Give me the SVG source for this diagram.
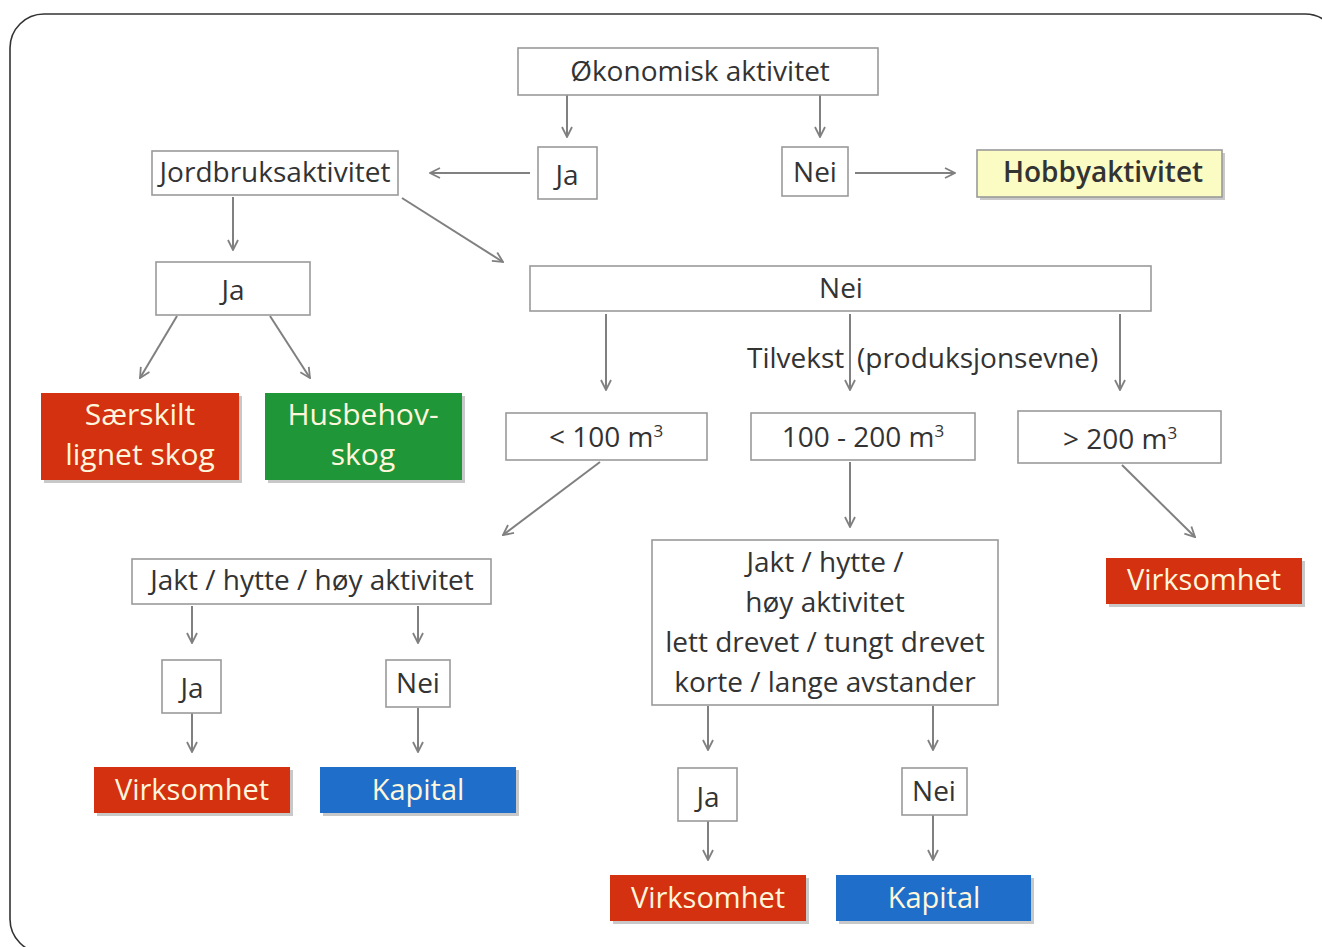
<svg xmlns="http://www.w3.org/2000/svg" width="1322" height="947" viewBox="0 0 1322 947">
<style>
.b{fill:#fff;stroke:#9a9a9a;stroke-width:1.6}
.t{font-family:"Open Sans","Noto Sans",sans-serif;font-size:28px;fill:#333;text-anchor:middle}
.w{font-family:"Open Sans","Noto Sans",sans-serif;font-size:29px;fill:#fff6dc;text-anchor:middle}
.red{fill:#d3310f}
.grn{fill:#1f9638}
.blu{fill:#1f6fca}
.sh{fill:#9a9a9a;opacity:0.55}
.c{stroke:#808080;stroke-width:2;fill:none;marker-end:url(#ah)}
</style>
<defs>
<marker id="ah" viewBox="0 0 12 12" refX="11" refY="6" markerWidth="12" markerHeight="12" markerUnits="userSpaceOnUse" orient="auto">
<path d="M1,1 L11,6 L1,11" fill="none" stroke="#808080" stroke-width="1.8"/>
</marker>
</defs>
<rect x="0" y="0" width="1322" height="947" fill="#fff"/>
<rect x="10" y="14" width="1329" height="939" rx="34" fill="none" stroke="#333" stroke-width="1.6"/>

<g id="connectors">
<line class="c" x1="567" y1="95" x2="567" y2="137"/>
<line class="c" x1="820" y1="95" x2="820" y2="137"/>
<line class="c" x1="530" y1="173" x2="430" y2="173"/>
<line class="c" x1="855" y1="173" x2="955" y2="173"/>
<line class="c" x1="233" y1="197" x2="233" y2="250"/>
<line class="c" x1="402" y1="198" x2="503" y2="262"/>
<line class="c" x1="177" y1="316" x2="140" y2="378"/>
<line class="c" x1="270" y1="316" x2="310" y2="378"/>
<line class="c" x1="606" y1="314" x2="606" y2="390"/>
<line class="c" x1="850" y1="314" x2="850" y2="390"/>
<line class="c" x1="1120" y1="314" x2="1120" y2="390"/>
<line class="c" x1="600" y1="462" x2="503" y2="535"/>
<line class="c" x1="850" y1="462" x2="850" y2="527"/>
<line class="c" x1="1122" y1="465" x2="1195" y2="537"/>
<line class="c" x1="192" y1="606" x2="192" y2="643"/>
<line class="c" x1="418" y1="606" x2="418" y2="643"/>
<line class="c" x1="192" y1="713" x2="192" y2="752"/>
<line class="c" x1="418" y1="708" x2="418" y2="752"/>
<line class="c" x1="708" y1="706" x2="708" y2="750"/>
<line class="c" x1="933" y1="706" x2="933" y2="750"/>
<line class="c" x1="708" y1="821" x2="708" y2="860"/>
<line class="c" x1="933" y1="815" x2="933" y2="860"/>
</g>

<g id="okonomisk"><rect class="b" x="518" y="48" width="360" height="47"/><text class="t" x="700" y="81">Økonomisk aktivitet</text></g>
<g id="ja1"><rect class="b" x="538" y="147" width="59" height="52"/><text class="t" x="567" y="185">Ja</text></g>
<g id="nei1"><rect class="b" x="782" y="147" width="66" height="49"/><text class="t" x="815" y="182">Nei</text></g>
<g id="hobby"><rect class="sh" x="980" y="153" width="245" height="47"/><rect x="977" y="150" width="245" height="47" fill="#fbfbc4" stroke="#9a9a9a" stroke-width="1.6"/><text class="t" x="1103" y="182" style="font-weight:600">Hobbyaktivitet</text></g>
<g id="jordbruk"><rect class="b" x="152" y="151" width="246" height="44"/><text class="t" x="275" y="182">Jordbruksaktivitet</text></g>
<g id="ja2"><rect class="b" x="156" y="262" width="154" height="53"/><text class="t" x="233" y="300">Ja</text></g>
<g id="serskilt"><rect class="sh" x="44" y="396" width="198" height="87"/><rect class="red" x="41" y="393" width="198" height="87"/><text class="w" x="140" y="425" style="font-size:30px">Særskilt</text><text class="w" x="140" y="465" style="font-size:30px">lignet skog</text></g>
<g id="husbehov"><rect class="sh" x="268" y="396" width="197" height="87"/><rect class="grn" x="265" y="393" width="197" height="87"/><text class="w" x="363" y="425" style="font-size:30px">Husbehov-</text><text class="w" x="363" y="465" style="font-size:30px">skog</text></g>
<g id="nei2"><rect class="b" x="530" y="266" width="621" height="45"/><text class="t" x="841" y="298">Nei</text></g>
<g id="tilvekst"><text class="t" style="text-anchor:start" y="368"><tspan x="747">Tilvekst</tspan><tspan x="857">(produksjonsevne)</tspan></text></g>
<g id="lt100"><rect class="b" x="506" y="413" width="201" height="47"/><text class="t" x="606" y="447">&lt; 100 m<tspan dy="-10" font-size="17">3</tspan></text></g>
<g id="m100200"><rect class="b" x="751" y="413" width="224" height="47"/><text class="t" x="863" y="447">100 - 200 m<tspan dy="-10" font-size="17">3</tspan></text></g>
<g id="gt200"><rect class="b" x="1018" y="411" width="203" height="52"/><text class="t" x="1120" y="449">&gt; 200 m<tspan dy="-10" font-size="17">3</tspan></text></g>
<g id="virk1"><rect class="sh" x="1109" y="561" width="196" height="46"/><rect class="red" x="1106" y="558" width="196" height="46"/><text class="w" x="1204" y="590">Virksomhet</text></g>
<g id="jakt1"><rect class="b" x="132" y="559" width="359" height="45"/><text class="t" x="312" y="590">Jakt / hytte / høy aktivitet</text></g>
<g id="ja3"><rect class="b" x="162" y="660" width="59" height="53"/><text class="t" x="192" y="698">Ja</text></g>
<g id="nei3"><rect class="b" x="386" y="660" width="64" height="47"/><text class="t" x="418" y="693">Nei</text></g>
<g id="virk2"><rect class="sh" x="97" y="770" width="196" height="46"/><rect class="red" x="94" y="767" width="196" height="46"/><text class="w" x="192" y="800">Virksomhet</text></g>
<g id="kap1"><rect class="sh" x="323" y="770" width="196" height="46"/><rect class="blu" x="320" y="767" width="196" height="46"/><text class="w" x="418" y="800">Kapital</text></g>
<g id="jakt2"><rect class="b" x="652" y="540" width="346" height="165"/><text class="t" x="825" y="572">Jakt / hytte /</text><text class="t" x="825" y="612">høy aktivitet</text><text class="t" x="825" y="652">lett drevet / tungt drevet</text><text class="t" x="825" y="692">korte / lange avstander</text></g>
<g id="ja4"><rect class="b" x="678" y="768" width="59" height="53"/><text class="t" x="708" y="807">Ja</text></g>
<g id="nei4"><rect class="b" x="902" y="768" width="65" height="47"/><text class="t" x="934" y="801">Nei</text></g>
<g id="virk3"><rect class="sh" x="613" y="878" width="196" height="46"/><rect class="red" x="610" y="875" width="196" height="46"/><text class="w" x="708" y="908">Virksomhet</text></g>
<g id="kap2"><rect class="sh" x="839" y="878" width="195" height="46"/><rect class="blu" x="836" y="875" width="195" height="46"/><text class="w" x="934" y="908">Kapital</text></g>
</svg>
